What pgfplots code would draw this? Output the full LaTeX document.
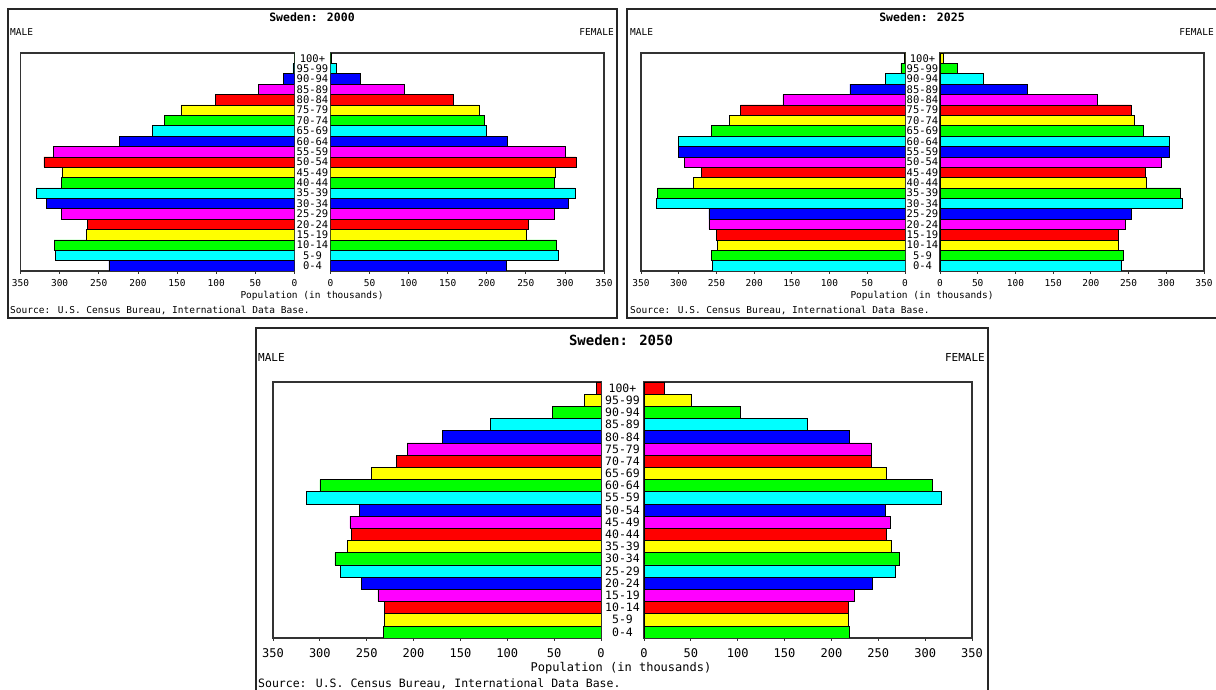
\documentclass[border=0pt]{standalone}
\usepackage{fontspec}
\setmainfont{DejaVu Sans Mono}
\usepackage{pgfplots}
\pgfplotsset{compat=1.18}

\definecolor{pB}{RGB}{0,0,255}
\definecolor{pC}{RGB}{0,255,255}
\definecolor{pG}{RGB}{0,255,0}
\definecolor{pY}{RGB}{255,255,0}
\definecolor{pR}{RGB}{255,0,0}
\definecolor{pM}{RGB}{255,0,255}

\pgfplotsset{
  pyr/.style={
    scale only axis, xbar, bar width=1, bar shift=0pt,
    xmin=0, xmax=350, ymin=-0.5, ymax=20.5,
    xtick={0,50,...,350}, xtick pos=bottom, tick align=outside,
    major tick length=3pt,
    ytick={0,...,20}, y tick style={draw=none},
    axis line style={line width=1.5pt, black!80},
    x tick style={line width=0.8pt, black!80},
    /pgf/number format/assume math mode=true,
    every axis plot/.append style={draw=black, line width=0.6pt},
  },
  male/.style={pyr, x dir=reverse, yticklabel pos=right,
    yticklabels={0-4,5-9,10-14,15-19,20-24,25-29,30-34,35-39,40-44,45-49,50-54,55-59,60-64,65-69,70-74,75-79,80-84,85-89,90-94,95-99,100+}},
  female/.style={pyr, yticklabels={}},
  small/.style={xticklabel style={font=\fontsize{9.5}{9.5}\selectfont, yshift=-5pt}},
  big/.style={xticklabel style={font=\fontsize{12}{12}\selectfont, yshift=-7pt}},
}

\begin{document}
\begin{tikzpicture}[x=1pt,y=1pt, every node/.style={inner sep=0pt}]

% ---------------- 2000 ----------------
\draw[line width=2pt, black!85] (8,372) rectangle (617,681);
\node[font=\bfseries\fontsize{11.5}{12}\selectfont] at (312,673) {Sweden: 2000};
\node[anchor=west, font=\fontsize{9.5}{10}\selectfont] at (10,658) {MALE};
\node[anchor=east, font=\fontsize{9.5}{10}\selectfont] at (614,658) {FEMALE};
\node[font=\fontsize{9.5}{10}\selectfont] at (312,394) {Population (in thousands)};
\node[anchor=west, font=\fontsize{9.5}{10}\selectfont] at (10,379) {Source: U.S. Census Bureau, International Data Base.};

\begin{axis}[male, small, at={(20.5pt,419pt)}, anchor=south west, width=274pt, height=218pt,
  yticklabel style={anchor=center, xshift=15pt, font=\fontsize{10.5}{10.5}\selectfont}]
\addplot[fill=pB] coordinates {(237,0) (317,6) (224,12) (14,18)};
\addplot[fill=pC] coordinates {(305,1) (330,7) (182,13) (2,19)};
\addplot[fill=pG] coordinates {(307,2) (298,8) (166,14) (0.3,20)};
\addplot[fill=pY] coordinates {(266,3) (297,9) (145,15)};
\addplot[fill=pR] coordinates {(265,4) (320,10) (101,16)};
\addplot[fill=pM] coordinates {(298,5) (308,11) (46,17)};
\end{axis}
\begin{axis}[female, small, at={(330.5pt,419pt)}, anchor=south west, width=273.5pt, height=218pt]
\addplot[fill=pB] coordinates {(225,0) (304,6) (226,12) (38,18)};
\addplot[fill=pC] coordinates {(291,1) (313,7) (199,13) (7,19)};
\addplot[fill=pG] coordinates {(289,2) (287,8) (197,14) (0.5,20)};
\addplot[fill=pY] coordinates {(250,3) (288,9) (190,15)};
\addplot[fill=pR] coordinates {(253,4) (314,10) (157,16)};
\addplot[fill=pM] coordinates {(287,5) (300,11) (94,17)};
\end{axis}

% ---------------- 2025 ----------------
\draw[line width=2pt, black!85] (1216,372) -- (627,372) -- (627,681) -- (1216,681);
\node[font=\bfseries\fontsize{11.5}{12}\selectfont] at (922,673) {Sweden: 2025};
\node[anchor=west, font=\fontsize{9.5}{10}\selectfont] at (630,658) {MALE};
\node[anchor=east, font=\fontsize{9.5}{10}\selectfont] at (1214,658) {FEMALE};
\node[font=\fontsize{9.5}{10}\selectfont] at (922,394) {Population (in thousands)};
\node[anchor=west, font=\fontsize{9.5}{10}\selectfont] at (630,379) {Source: U.S. Census Bureau, International Data Base.};

\begin{axis}[male, small, at={(641pt,419pt)}, anchor=south west, width=264pt, height=218pt,
  yticklabel style={anchor=center, xshift=14.5pt, font=\fontsize{10.5}{10.5}\selectfont}]
\addplot[fill=pC] coordinates {(255,0) (330,6) (300,12) (26,18)};
\addplot[fill=pG] coordinates {(257,1) (328,7) (257,13) (5.5,19)};
\addplot[fill=pY] coordinates {(249,2) (281,8) (233,14) (0.5,20)};
\addplot[fill=pR] coordinates {(250,3) (270,9) (218,15)};
\addplot[fill=pM] coordinates {(260,4) (292,10) (162,16)};
\addplot[fill=pB] coordinates {(260,5) (300,11) (73,17)};
\end{axis}
\begin{axis}[female, small, at={(940pt,419pt)}, anchor=south west, width=264pt, height=218pt]
\addplot[fill=pC] coordinates {(241,0) (321,6) (304,12) (58,18)};
\addplot[fill=pG] coordinates {(243,1) (319,7) (270,13) (23,19)};
\addplot[fill=pY] coordinates {(236,2) (274,8) (257,14) (5,20)};
\addplot[fill=pR] coordinates {(236,3) (272,9) (253,15)};
\addplot[fill=pM] coordinates {(245,4) (294,10) (209,16)};
\addplot[fill=pB] coordinates {(253,5) (304,11) (116,17)};
\end{axis}

% ---------------- 2050 ----------------
\draw[line width=2pt, black!85] (256,0) -- (256,362) -- (988,362) -- (988,0);
\node[font=\bfseries\fontsize{14}{15}\selectfont] at (621,350) {Sweden: 2050};
\node[anchor=west, font=\fontsize{11}{12}\selectfont] at (258,333) {MALE};
\node[anchor=east, font=\fontsize{11}{12}\selectfont] at (985,333) {FEMALE};
\node[font=\fontsize{12}{12}\selectfont] at (621,22) {Population (in thousands)};
\node[anchor=base west, font=\fontsize{11.5}{12}\selectfont] at (258,2) {Source: U.S. Census Bureau, International Data Base.};

\begin{axis}[male, big, at={(273pt,52pt)}, anchor=south west, width=328pt, height=256pt,
  yticklabel style={anchor=center, xshift=18.5pt, font=\fontsize{11.5}{11.5}\selectfont}]
\addplot[fill=pG] coordinates {(232,0) (284,6) (300,12) (52,18)};
\addplot[fill=pY] coordinates {(231,1) (271,7) (245,13) (18,19)};
\addplot[fill=pR] coordinates {(231,2) (266,8) (218,14) (4.5,20)};
\addplot[fill=pM] coordinates {(238,3) (268,9) (207,15)};
\addplot[fill=pB] coordinates {(256,4) (258,10) (169,16)};
\addplot[fill=pC] coordinates {(278,5) (314,11) (118,17)};
\end{axis}
\begin{axis}[female, big, at={(644pt,52pt)}, anchor=south west, width=328pt, height=256pt]
\addplot[fill=pG] coordinates {(219,0) (272,6) (308,12) (103,18)};
\addplot[fill=pY] coordinates {(218,1) (264,7) (259,13) (50,19)};
\addplot[fill=pR] coordinates {(218,2) (259,8) (243,14) (21.5,20)};
\addplot[fill=pM] coordinates {(224,3) (263,9) (243,15)};
\addplot[fill=pB] coordinates {(244,4) (258,10) (219,16)};
\addplot[fill=pC] coordinates {(268,5) (317,11) (174,17)};
\end{axis}

\pgfresetboundingbox
\path (0,0) rectangle (1216,690);
\end{tikzpicture}
\end{document}
